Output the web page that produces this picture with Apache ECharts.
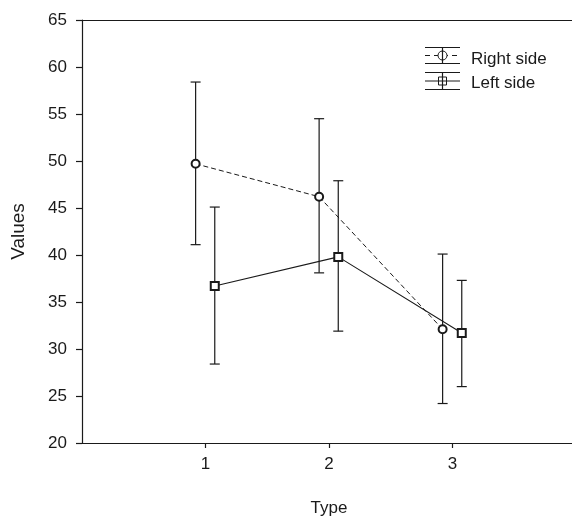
<!DOCTYPE html>
<html>
<head>
<meta charset="utf-8">
<script src="https://cdn.jsdelivr.net/npm/echarts@6/dist/echarts.min.js"></script>
<style>html,body{margin:0;padding:0;background:#fff;}#chart{width:572px;height:521px;}</style>
</head>
<body>
<div id="chart"></div>
<script>
// ---- data ----
var types = [1, 2, 3];
var seriesNames = ['Right side', 'Left side'];
var rightMean = [49.7, 46.2, 32.1];
var rightUpper = [58.4, 54.5, 40.1];
var rightLower = [41.1, 38.1, 24.2];
var leftMean = [36.7, 39.8, 31.7];
var leftUpper = [45.1, 47.9, 37.3];
var leftLower = [28.4, 31.9, 26.0];
var yTicks = [20, 25, 30, 35, 40, 45, 50, 55, 60, 65];
var xTickLabels = [1, 2, 3];

// dodge offsets (in axis units) for the two groups
var dodgeRight = -0.08, dodgeLeft = 0.075;

var FONT = "'Liberation Sans', Arial, Helvetica, sans-serif";
var INK = '#1a1a1a';

function pts(mean, off) { return types.map(function (t, i) { return [t + off, mean[i]]; }); }
function errs(lo, hi, off) { return types.map(function (t, i) { return [t + off, lo[i], hi[i]]; }); }

function errRender(params, api) {
  var x = api.value(0), lo = api.value(1), hi = api.value(2);
  var pLo = api.coord([x, lo]), pHi = api.coord([x, hi]);
  var cap = 5;
  var st = { stroke: INK, lineWidth: 1.2 };
  return {
    type: 'group',
    children: [
      { type: 'line', shape: { x1: pLo[0], y1: pLo[1], x2: pHi[0], y2: pHi[1] }, style: st },
      { type: 'line', shape: { x1: pHi[0] - cap, y1: pHi[1], x2: pHi[0] + cap, y2: pHi[1] }, style: st },
      { type: 'line', shape: { x1: pLo[0] - cap, y1: pLo[1], x2: pLo[0] + cap, y2: pLo[1] }, style: st }
    ]
  };
}

var chart = echarts.init(document.getElementById('chart'), null, { renderer: 'canvas' });

var lx = 425, lx2 = 460, lcx = 442.5;
var lgStyle = { stroke: INK, lineWidth: 1.2 };
var legendGraphic = [
  // Right side icon
  { type: 'line', shape: { x1: lx, y1: 47.5, x2: lx2, y2: 47.5 }, style: lgStyle },
  { type: 'line', shape: { x1: lx, y1: 63.5, x2: lx2, y2: 63.5 }, style: lgStyle },
  { type: 'line', shape: { x1: lcx, y1: 47.5, x2: lcx, y2: 63.5 }, style: lgStyle },
  { type: 'line', shape: { x1: lx, y1: 55.5, x2: lx2, y2: 55.5 }, style: { stroke: INK, lineWidth: 1, lineDash: [5, 4] } },
  { type: 'circle', shape: { cx: lcx, cy: 55.5, r: 4.5 }, style: { stroke: INK, fill: '#fff', lineWidth: 1 } },
  { type: 'line', shape: { x1: lcx, y1: 50.5, x2: lcx, y2: 60.5 }, style: lgStyle },
  { type: 'text', x: 471, y: 59, style: { text: seriesNames[0], font: '17px ' + FONT, fill: INK, verticalAlign: 'middle', align: 'left' } },
  // Left side icon
  { type: 'line', shape: { x1: lx, y1: 72.5, x2: lx2, y2: 72.5 }, style: lgStyle },
  { type: 'line', shape: { x1: lx, y1: 89.5, x2: lx2, y2: 89.5 }, style: lgStyle },
  { type: 'line', shape: { x1: lcx, y1: 72.5, x2: lcx, y2: 89.5 }, style: lgStyle },
  { type: 'line', shape: { x1: lx, y1: 81, x2: lx2, y2: 81 }, style: { stroke: INK, lineWidth: 1 } },
  { type: 'rect', shape: { x: lcx - 4, y: 77, width: 8, height: 8 }, style: { stroke: INK, fill: 'none', lineWidth: 1 } },
  { type: 'text', x: 471, y: 83, style: { text: seriesNames[1], font: '17px ' + FONT, fill: INK, verticalAlign: 'middle', align: 'left' } }
];

var option = {
  animation: false,
  backgroundColor: '#fff',
  grid: { left: 82, top: 20, width: 494, height: 423, containLabel: false, outerBoundsMode: 'none' },
  xAxis: [{
    type: 'value', min: 0, max: 4, interval: 1,
    name: 'Type', nameLocation: 'middle', nameGap: 57,
    nameTextStyle: { fontFamily: FONT, fontSize: 17, color: INK },
    axisLine: { show: true, lineStyle: { color: INK, width: 1.2 } },
    axisTick: { show: true, length: 5, customValues: xTickLabels, lineStyle: { color: INK, width: 1.2 } },
    axisLabel: { show: true, customValues: xTickLabels, margin: 13, fontFamily: FONT, fontSize: 17, color: INK },
    splitLine: { show: false }
  }, {
    type: 'value', position: 'top', min: 0, max: 4,
    axisLine: { show: true, onZero: false, lineStyle: { color: INK, width: 1.2 } },
    axisTick: { show: false }, axisLabel: { show: false }, splitLine: { show: false }
  }],
  yAxis: {
    type: 'value', min: yTicks[0], max: yTicks[yTicks.length - 1], interval: 5,
    name: 'Values', nameLocation: 'middle', nameGap: 54, nameRotate: 90,
    nameTextStyle: { fontFamily: FONT, fontSize: 19, color: INK },
    axisLine: { show: true, lineStyle: { color: INK, width: 1.2 } },
    axisTick: { show: true, length: 6, lineStyle: { color: INK, width: 1.2 } },
    axisLabel: { margin: 15, fontFamily: FONT, fontSize: 17, color: INK },
    splitLine: { show: false }
  },
  series: [
    { type: 'custom', name: seriesNames[0] + ' err', renderItem: errRender, data: errs(rightLower, rightUpper, dodgeRight), z: 2 },
    { type: 'custom', name: seriesNames[1] + ' err', renderItem: errRender, data: errs(leftLower, leftUpper, dodgeLeft), z: 2 },
    {
      type: 'line', name: seriesNames[0], data: pts(rightMean, dodgeRight),
      symbol: 'emptyCircle', symbolSize: 8, z: 3,
      lineStyle: { color: INK, width: 1, type: [5, 3] },
      itemStyle: { color: INK, borderColor: INK, borderWidth: 0.9 }
    },
    {
      type: 'line', name: seriesNames[1], data: pts(leftMean, dodgeLeft),
      symbol: 'emptyRect', symbolSize: 8, z: 3,
      lineStyle: { color: INK, width: 1.1 },
      itemStyle: { color: INK, borderColor: INK, borderWidth: 0.9 }
    }
  ],
  graphic: legendGraphic
};
chart.setOption(option);
</script>
</body>
</html>
